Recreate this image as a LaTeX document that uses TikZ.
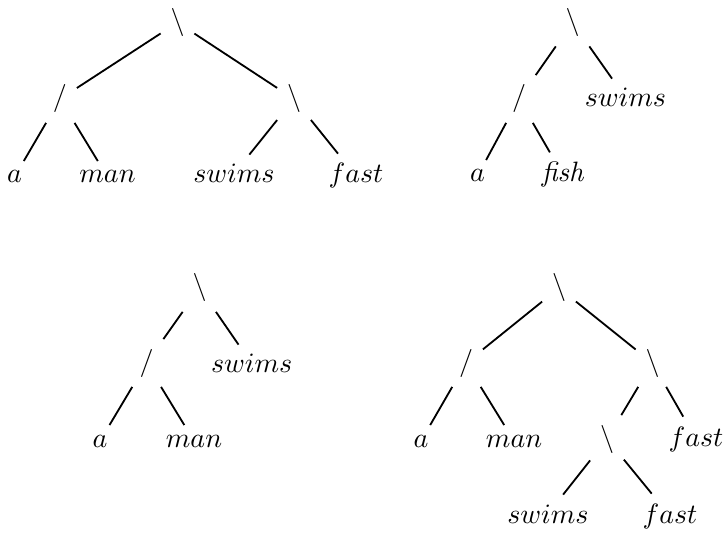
\documentclass[tikz,border=0pt]{standalone}
\begin{document}
\begin{tikzpicture}[x=0.357pt,y=-0.357pt,
  leaf/.style={anchor=base},
  edge/.style={line width=0.65pt}]
\useasboundingbox (0,0) rectangle (725,536);

% a man swims fast
\node (r1) at (177.5,22.5) {$\backslash$};
\node (l1) at (60,99) {$/$};
\node (m1) at (294,99) {$\backslash$};
\node[leaf] (a1) at (14.5,183) {$a$};
\node[leaf] (man1) at (107.5,183) {$man$};
\node[leaf] (sw1) at (234,183) {$swims$};
\node[leaf] (fa1) at (356,183) {$fast$};
\draw[edge] (r1) -- (l1);
\draw[edge] (r1) -- (m1);
\draw[edge] (l1) -- (a1);
\draw[edge] (l1) -- (man1);
\draw[edge] (m1) -- (sw1);
\draw[edge] (m1) -- (fa1);

% a fish swims
\node (r2) at (572.5,22.5) {$\backslash$};
\node (l2) at (519,99) {$/$};
\node[leaf] (sw2) at (625.5,107) {$swims$};
\node[leaf] (a2) at (477.5,182) {$a$};
\node[leaf] (fi2) at (563,182) {\textit{fish}};
\draw[edge] (r2) -- (l2);
\draw[edge] (r2) -- (sw2);
\draw[edge] (l2) -- (a2);
\draw[edge] (l2) -- (fi2);

% a man swims
\node (r3) at (199.5,288) {$\backslash$};
\node (l3) at (146.5,363) {$/$};
\node[leaf] (sw3) at (251.7,373) {$swims$};
\node[leaf] (a3) at (100,447) {$a$};
\node[leaf] (man3) at (194,447) {$man$};
\draw[edge] (r3) -- (l3);
\draw[edge] (r3) -- (sw3);
\draw[edge] (l3) -- (a3);
\draw[edge] (l3) -- (man3);

% a man swims fast fast
\node (r4) at (559,288) {$\backslash$};
\node (l4) at (466,363) {$/$};
\node (m4) at (652.5,363) {$\backslash$};
\node[leaf] (a4) at (421,447) {$a$};
\node[leaf] (man4) at (514,447) {$man$};
\node (n4) at (607,439) {$\backslash$};
\node[leaf] (fa4) at (696,446) {$fast$};
\node[leaf] (sw4) at (548,523) {$swims$};
\node[leaf] (fb4) at (670,523) {$fast$};
\draw[edge] (r4) -- (l4);
\draw[edge] (r4) -- (m4);
\draw[edge] (l4) -- (a4);
\draw[edge] (l4) -- (man4);
\draw[edge] (m4) -- (n4);
\draw[edge] (m4) -- (fa4);
\draw[edge] (n4) -- (sw4);
\draw[edge] (n4) -- (fb4);
\end{tikzpicture}
\end{document}
